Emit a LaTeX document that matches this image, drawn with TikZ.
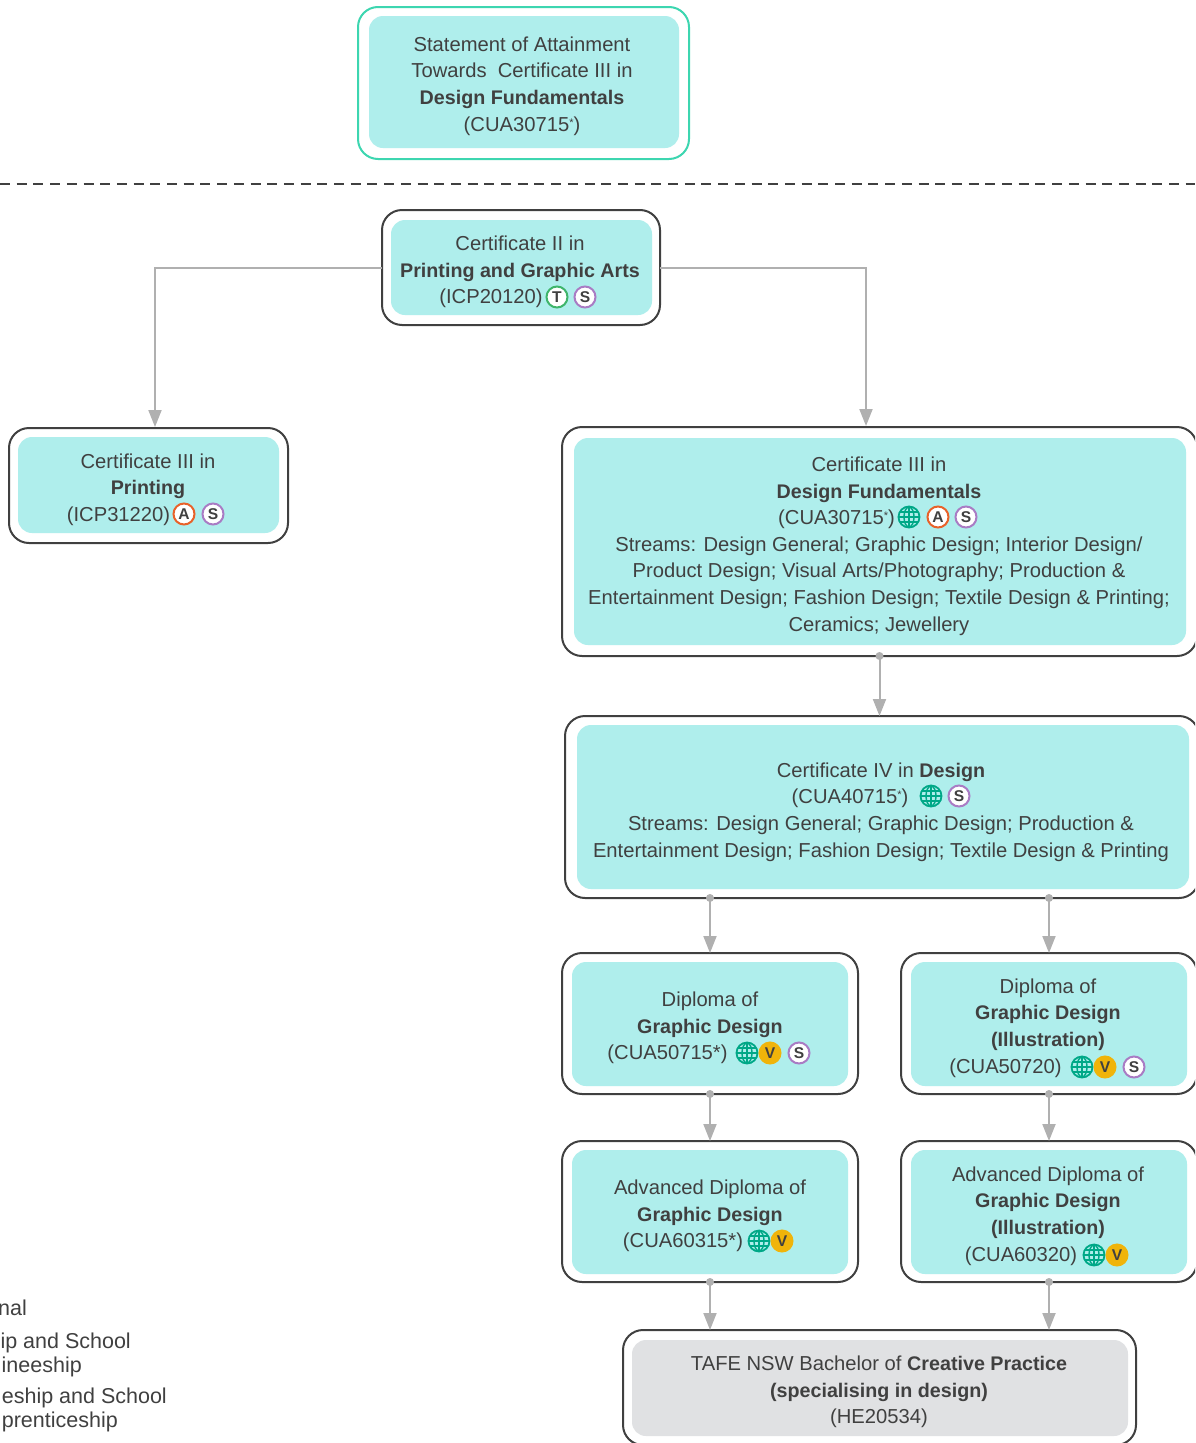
\documentclass[tikz,border=0pt]{standalone}
\usepackage{fontspec}
\setmainfont[BoldFeatures={Scale=0.975}]{Liberation Sans}
\usetikzlibrary{arrows.meta}
\definecolor{ink}{HTML}{404040}
\definecolor{tealfill}{HTML}{AFEEEC}
\definecolor{greyfill}{HTML}{E0E1E3}
\definecolor{tealline}{HTML}{3DD6B0}
\definecolor{conn}{HTML}{B0B0B0}
\definecolor{cglobe}{HTML}{00A887}
\definecolor{cA}{HTML}{E8622A}
\definecolor{cS}{HTML}{A97CC4}
\definecolor{cT}{HTML}{3FB56B}
\definecolor{cV}{HTML}{F0B40A}
\newcommand{\sta}{\raisebox{5pt}{\fontsize{11}{11}\selectfont *}}
\newcommand{\gap}[1]{\hspace*{#1}\mbox{}}
\newcommand{\globeat}[3]{%
  \node[globebadge] (#1) at (#2,#3) {};
  \draw[globeline] (#1.west) -- (#1.east) (#1.north) -- (#1.south);
  \draw[globeline] (#1.center) ellipse [x radius=5pt,y radius=10pt];
  \draw[globeline] (#2-9,#3-5) -- (#2+9,#3-5) (#2-9,#3+5) -- (#2+9,#3+5);
}
\tikzset{
  x=1pt,y=-1pt,
  outerbox/.style={draw=ink,line width=2pt,fill=white,rounded corners=20pt,inner sep=0pt,outer sep=0pt},
  innerbox/.style={fill=tealfill,rounded corners=14pt,inner sep=0pt,outer sep=0pt},
  lbl/.style={text=ink,align=center,inner sep=0pt,yshift=-2pt,font=\fontsize{20.2}{26.6}\selectfont},
  frag/.style={text=ink,inner sep=0pt,anchor=base east,font=\fontsize{21.5}{26.6}\selectfont},
  badge/.style={circle,fill=white,line width=2pt,minimum size=21pt,inner sep=0pt,text=ink,font=\fontsize{16}{16}\selectfont\bfseries},
  globebadge/.style={circle,draw=cglobe,line width=1.8pt,minimum size=21pt,inner sep=0pt},
  globeline/.style={draw=cglobe,line width=1.5pt},
  connector/.style={draw=conn,line width=2pt,-{Triangle[length=17pt,width=13pt]}},
  dot/.style={circle,fill=conn,minimum size=8pt,inner sep=0pt},
}
\begin{document}
\begin{tikzpicture}
\useasboundingbox (0,0) rectangle (1195,1443);
\clip (0,0) rectangle (1195,1443);
% dashed divider
\coordinate (dl) at (0,184);
\coordinate (dr) at (1195,184);
\draw[ink,line width=1.8pt,dash pattern=on 10pt off 6.7pt] (dl) -- (dr);
% boxes
\node[outerbox,draw=tealline,minimum width=331pt,minimum height=152pt] (top) at (523.5,83) {};
\node[innerbox,minimum width=310pt,minimum height=132pt] (topi) at (524,82) {};
\node[outerbox,minimum width=278pt,minimum height=115pt] (c2) at (521,267.5) {};
\node[innerbox,minimum width=261pt,minimum height=95pt] (c2i) at (521.5,267.5) {};
\node[outerbox,minimum width=279pt,minimum height=115pt] (c3p) at (148.5,485.5) {};
\node[innerbox,minimum width=261pt,minimum height=96pt] (c3pi) at (148.5,485) {};
\node[outerbox,minimum width=635pt,minimum height=229pt] (c3d) at (879.5,541.5) {};
\node[innerbox,minimum width=612pt,minimum height=207pt] (c3di) at (880,541.5) {};
\node[outerbox,minimum width=634pt,minimum height=182pt] (c4) at (882,807) {};
\node[innerbox,minimum width=612pt,minimum height=164pt] (c4i) at (883,807) {};
\node[outerbox,minimum width=296pt,minimum height=141pt] (d1) at (710,1023.5) {};
\node[innerbox,minimum width=276pt,minimum height=124pt] (d1i) at (710,1024) {};
\node[outerbox,minimum width=296pt,minimum height=141pt] (d2) at (1049,1023.5) {};
\node[innerbox,minimum width=276pt,minimum height=124pt] (d2i) at (1049,1024) {};
\node[outerbox,minimum width=296pt,minimum height=141pt] (a1) at (710,1211.5) {};
\node[innerbox,minimum width=276pt,minimum height=124pt] (a1i) at (710,1212) {};
\node[outerbox,minimum width=296pt,minimum height=141pt] (a2) at (1049,1211.5) {};
\node[innerbox,minimum width=276pt,minimum height=124pt] (a2i) at (1049,1212) {};
\node[outerbox,minimum width=513pt,minimum height=115pt] (ba) at (879.5,1387.5) {};
\node[innerbox,fill=greyfill,minimum width=496pt,minimum height=96pt] (bai) at (880,1388) {};
% texts
\node[lbl] (topt) at (522,84) {Statement of Attainment\\Towards\ \ Certificate III in\\\textbf{Design Fundamentals}\\(CUA30715\sta)};
\node[lbl] (c2t) at (520,270) {Certificate II in\\\textbf{Printing and Graphic Arts}\\(ICP20120)\gap{58pt}};
\node[lbl] (c3pt) at (148,487.5) {Certificate III in\\\textbf{Printing}\\(ICP31220)\gap{59pt}};
\node[lbl] (c3dt) at (879,544) {Certificate III in\\\textbf{Design Fundamentals}\\(CUA30715\sta)\gap{85pt}\\Streams: Design General; Graphic Design; Interior Design/\\Product Design; Visual Arts/Photography; Production \&\\Entertainment Design; Fashion Design; Textile Design \& Printing;\\Ceramics; Jewellery};
\node[lbl] (c4t) at (881,810) {Certificate IV in \textbf{Design}\\(CUA40715\sta)\gap{62pt}\\Streams: Design General; Graphic Design; Production \&\\Entertainment Design; Fashion Design; Textile Design \& Printing};
\node[lbl] (d1t) at (710,1026) {Diploma of\\\textbf{Graphic Design}\\(CUA50715*)\gap{85pt}};
\node[lbl] (d2t) at (1048,1026) {Diploma of\\\textbf{Graphic Design}\\\textbf{(Illustration)}\\(CUA50720)\gap{85pt}};
\node[lbl] (a1t) at (710,1214) {Advanced Diploma of\\\textbf{Graphic Design}\\(CUA60315*)\gap{54pt}};
\node[lbl] (a2t) at (1048,1214) {Advanced Diploma of\\\textbf{Graphic Design}\\\textbf{(Illustration)}\\(CUA60320)\gap{54pt}};
\node[lbl] (bat) at (879,1390) {TAFE NSW Bachelor of \textbf{Creative Practice}\\\textbf{(specialising in design)}\\(HE20534)};
% legend fragments cut by the page edge
\node[frag] (f1) at (27,1315) {nal};
\node[frag] (f2) at (131,1348) {ip and School};
\node[frag] (f3) at (82,1372) {ineeship};
\node[frag] (f4) at (167,1403) {eship and School};
\node[frag] (f5) at (118,1427) {prenticeship};
% badges
\node[badge,draw=cT] (b1) at (557,297) {T};
\node[badge,draw=cS] (b2) at (585,297) {S};
\node[badge,draw=cA] (b3) at (184,514) {A};
\node[badge,draw=cS] (b4) at (213,514) {S};
\globeat{g1}{909}{517}
\node[badge,draw=cA] (b5) at (938,517) {A};
\node[badge,draw=cS] (b6) at (966,517) {S};
\globeat{g2}{931}{796}
\node[badge,draw=cS] (b7) at (959,796) {S};
\globeat{g3}{747}{1053}
\node[badge,draw=cV,fill=cV] (b8) at (770,1053) {V};
\node[badge,draw=cS] (b9) at (799,1053) {S};
\globeat{g4}{1082}{1067}
\node[badge,draw=cV,fill=cV] (b10) at (1105,1067) {V};
\node[badge,draw=cS] (b11) at (1134,1067) {S};
\globeat{g5}{759}{1241}
\node[badge,draw=cV,fill=cV] (b12) at (782,1241) {V};
\globeat{g6}{1094}{1255}
\node[badge,draw=cV,fill=cV] (b13) at (1117,1255) {V};
% connectors
\draw[connector] (c2.west) -| ([xshift=6.5pt,yshift=1pt]c3p.north);
\draw[connector] (c2.east) -| ([xshift=-13.5pt,yshift=1pt]c3d.north);
\draw[connector] (c3d.south) -- (c3d.south |- c4.north);
\draw[connector] (d1.north |- c4.south) -- (d1.north);
\draw[connector] (d2.north |- c4.south) -- (d2.north);
\draw[connector] (d1.south) -- (a1.north);
\draw[connector] (d2.south) -- (a2.north);
\draw[connector] (a1.south) -- (a1.south |- ba.north);
\draw[connector] (a2.south) -- (a2.south |- ba.north);
% start dots
\node[dot] (s1) at (c3d.south) {};
\node[dot] (s2) at (d1.north |- c4.south) {};
\node[dot] (s3) at (d2.north |- c4.south) {};
\node[dot] (s4) at (d1.south) {};
\node[dot] (s5) at (d2.south) {};
\node[dot] (s6) at (a1.south) {};
\node[dot] (s7) at (a2.south) {};
\end{tikzpicture}
\end{document}
